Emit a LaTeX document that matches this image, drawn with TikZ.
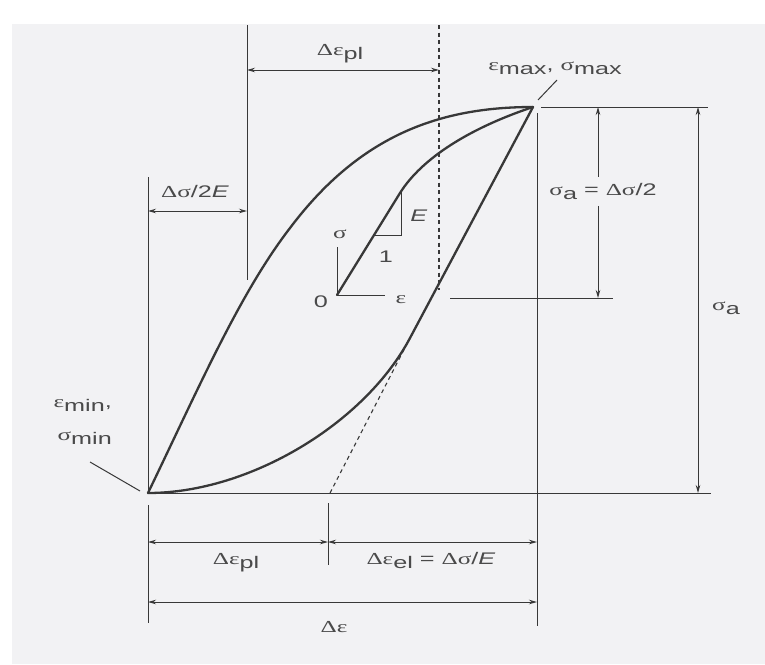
\documentclass[tikz,border=0pt]{standalone}
\usepackage{fontspec}
\setmainfont{Liberation Sans}
\newfontfamily\gkfont{Liberation Serif}
\usetikzlibrary{arrows.meta}
\definecolor{ink}{HTML}{383838}
\definecolor{txt}{HTML}{4A4A4A}
\definecolor{paper}{HTML}{F2F2F4}
\newcommand{\hs}[1]{\scalebox{1.5}[1]{#1}}
\newcommand{\lo}[1]{\raisebox{-4.5pt}{#1}}
\newcommand{\gk}[1]{{\gkfont #1}}
\begin{document}
\begin{tikzpicture}[x=1pt,y=-1pt,
  curve/.style={draw=ink, line width=2.3pt, line cap=round},
  thin/.style={draw=ink, line width=1pt},
  dim/.style={thin, {Stealth[length=8pt,width=4.5pt]}-{Stealth[length=8pt,width=4.5pt]}},
  dimend/.style={thin, -{Stealth[length=8pt,width=4.5pt]}},
  lab/.style={text=txt, font=\fontsize{16.8}{20}\selectfont, inner sep=1pt, anchor=base},
  dsh/.style={draw=ink, line width=1.1pt, dash pattern=on 4pt off 3.5pt}]
\useasboundingbox (0,0) rectangle (765,664);
\fill[white] (0,0) rectangle (765,664);
\fill[paper] (12,24) rectangle (765,664);

% key points
\coordinate (mn) at (148,493);
\coordinate (mx) at (533,107);
\coordinate (o) at (337,295);
\coordinate (kn) at (400,193);
\coordinate (tg) at (410,338);
\coordinate (tb) at (330,493);

% hysteresis curves
\draw[curve] (mn) .. controls (200,385) and (240,293) .. (290,228) .. controls (360,135) and (440,107) .. (mx);
\draw[curve] (mn) .. controls (250,493) and (365,423) .. (tg) -- (mx);
\draw[curve] (o) -- (kn) .. controls (422,158) and (470,128) .. (mx);
\draw[dsh] (tb) -- (tg);

% dashed vertical
\coordinate (dvt) at (439,25);
\coordinate (dvb) at (439,290);
\draw[dsh] (dvt) -- (dvb);

% slope triangle and inner axes
\coordinate (t1) at (374,235);
\coordinate (t2) at (401,235);
\coordinate (t3) at (401,192);
\draw[thin] (t1) -- (t2) -- (t3);
\coordinate (sy) at (337,247);
\coordinate (ex) at (385,295);
\draw[thin] (sy) -- (o) -- (ex);
\node[lab] (sig) at (340,238) {\hs{\gk{σ}}};
\node[lab] (eps) at (401,303) {\hs{\gk{ε}}};
\node[lab] (zero) at (321,307) {\hs{0}};
\node[lab] (elab) at (419,221) {\hs{\textit{E}}};
\node[lab] (one) at (386,262) {\hs{1}};

% top dimension: Delta eps_pl
\coordinate (v1t) at (247,25);
\coordinate (v1b) at (247,280);
\draw[thin] (v1t) -- (v1b);
\coordinate (a1l) at (247,70);
\coordinate (a1r) at (439,70);
\draw[dim] (a1l) -- (a1r);
\node[lab] (depl1) at (340,55) {\hs{\gk{Δε}\lo{pl}}};

% Delta sigma / 2E
\coordinate (v0t) at (148,177);
\draw[thin] (v0t) -- (mn);
\coordinate (a2l) at (148,211);
\coordinate (a2r) at (247,211);
\draw[dim] (a2l) -- (a2r);
\node[lab] (ds2e) at (195,197) {\hs{\gk{Δσ}/2\textit{E}}};

% max label
\node[lab] (mxl) at (555,70) {\hs{\gk{ε}\lo{max}, \gk{σ}\lo{max}}};
\coordinate (lm1) at (538,100);
\coordinate (lm2) at (557,80);
\draw[thin] (lm1) -- (lm2);

% min label
\node[lab, anchor=base east] (mnl1) at (113,407) {\hs{\gk{ε}\lo{min},}};
\node[lab, anchor=base east] (mnl2) at (113,440) {\hs{\gk{σ}\lo{min}}};
\coordinate (ln1) at (90,462);
\coordinate (ln2) at (140,491);
\draw[thin] (ln1) -- (ln2);

% right side
\coordinate (vrt) at (537,113);
\coordinate (vrb) at (537,626);
\draw[thin] (vrt) -- (vrb);
\coordinate (h1l) at (541,107);
\coordinate (h1r) at (708,107);
\draw[thin] (h1l) -- (h1r);
\coordinate (h2l) at (450,298);
\coordinate (h2r) at (613,298);
\draw[thin] (h2l) -- (h2r);
\coordinate (sat) at (598,107);
\coordinate (sab) at (598,298);
\node[lab, inner ysep=6pt] (sah) at (603,195) {\hs{\gk{σ}\lo{a} = \gk{Δσ}/2}};
\draw[dimend] (sah.north -| sat) -- (sat);
\draw[dimend] (sah.south -| sab) -- (sab);
\coordinate (rat) at (698,107);
\coordinate (rab) at (698,493);
\draw[dim] (rat) -- (rab);
\node[lab] (sa2) at (726,310) {\hs{\gk{σ}\lo{a}}};
\coordinate (hbr) at (711,493);
\draw[thin] (mn) -- (hbr);

% bottom dimensions
\coordinate (bl1) at (148,505);
\coordinate (bl2) at (148,623);
\draw[thin] (bl1) -- (bl2);
\coordinate (bm1) at (328,503);
\coordinate (bm2) at (328,565);
\draw[thin] (bm1) -- (bm2);
\coordinate (d1l) at (148,542);
\coordinate (d1m) at (328,542);
\coordinate (d1r) at (537,542);
\draw[dim] (d1l) -- (d1m);
\draw[dim] (d1m) -- (d1r);
\coordinate (d2l) at (148,602);
\coordinate (d2r) at (537,602);
\draw[dim] (d2l) -- (d2r);
\node[lab] (depl2) at (236,564) {\hs{\gk{Δε}\lo{pl}}};
\node[lab] (deel) at (431,564) {\hs{\gk{Δε}\lo{el} = \gk{Δσ}/\textit{E}}};
\node[lab] (de) at (334,632) {\hs{\gk{Δε}}};
\end{tikzpicture}
\end{document}
